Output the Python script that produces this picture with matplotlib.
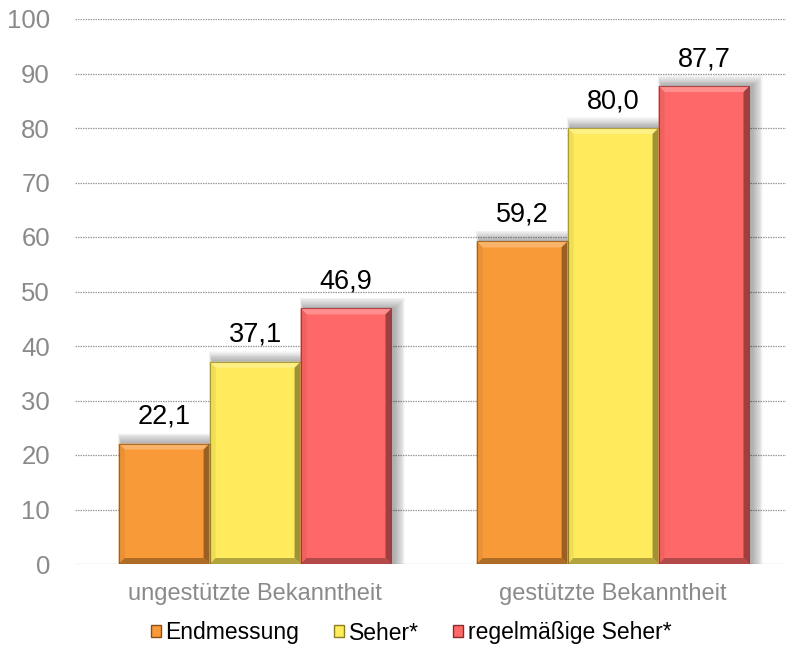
import matplotlib.pyplot as plt
import numpy as np
from matplotlib.patches import Polygon, Rectangle, Patch

plt.rcParams['font.family'] = ['Liberation Sans', 'DejaVu Sans']

categories = ["ungestützte Bekanntheit", "gestützte Bekanntheit"]
series = ["Endmessung", "Seher*", "regelmäßige Seher*"]
values = {
    "Endmessung": [22.1, 59.2],
    "Seher*": [37.1, 80.0],
    "regelmäßige Seher*": [46.9, 87.7],
}
colors = ["#F99A38", "#FFEB5C", "#FF6868"]
dark = ["#8A4E12", "#8C7F1E", "#8A2A2A"]

W, H, DPI = 786, 646, 100
fig = plt.figure(figsize=(W / DPI, H / DPI), dpi=DPI)
ax = fig.add_axes([75 / W, 1 - 564 / H, 1 - 75 / W, (564 - 19) / H])

xlim = (-0.503, 1.483)
ylim = (0, 100)
ax.set_xlim(*xlim)
ax.set_ylim(*ylim)
ax_w_px = (1 - 75 / W) * W
ax_h_px = 545
px_x = (xlim[1] - xlim[0]) / ax_w_px   # data units per pixel
px_y = (ylim[1] - ylim[0]) / ax_h_px

width = 0.254
x = np.arange(len(categories))


def shade(c, f):
    c = np.array(plt.matplotlib.colors.to_rgb(c))
    if f > 0:
        return tuple(c + (1 - c) * f)
    return tuple(c * (1 + f))


def beveled_bar(x0, h, color, edge):
    x1 = x0 + width
    # soft drop shadow
    for k in range(12, 0, -1):
        ax.add_patch(Rectangle((x0 - k * 0.3 * px_x + 3 * px_x, 0),
                               width + k * 1.2 * px_x, h + k * 0.9 * px_y,
                               facecolor="black", edgecolor="none",
                               alpha=0.028, zorder=1))
    ax.add_patch(Rectangle((x0, 0), width, h, facecolor=color,
                           edgecolor="none", zorder=3))
    b = 6
    bx, by = b * px_x, b * px_y
    top = Polygon([(x0, h), (x1, h), (x1 - bx, h - by), (x0 + bx, h - by)],
                  facecolor=shade(color, 0.25), edgecolor="none", zorder=4)
    left = Polygon([(x0, 0), (x0, h), (x0 + bx, h - by), (x0 + bx, by)],
                   facecolor=shade(color, -0.06), edgecolor="none", zorder=4)
    right = Polygon([(x1, 0), (x1, h), (x1 - bx, h - by), (x1 - bx, by)],
                    facecolor=shade(color, -0.38), edgecolor="none", zorder=4)
    bottom = Polygon([(x0, 0), (x1, 0), (x1 - bx, by), (x0 + bx, by)],
                     facecolor=shade(color, -0.3), edgecolor="none", zorder=4)
    for p in (top, left, right, bottom):
        ax.add_patch(p)
    ax.add_patch(Rectangle((x0, 0), width, h, facecolor="none",
                           edgecolor=edge, linewidth=0.8, alpha=0.7, zorder=5))


for i, name in enumerate(series):
    for j, v in enumerate(values[name]):
        x0 = x[j] + (i - 1.5) * width
        beveled_bar(x0, v, colors[i], dark[i])
        ax.annotate(f"{v:.1f}".replace(".", ","), (x0 + width / 2, v),
                    xytext=(0, 10), textcoords="offset points",
                    ha="center", va="bottom", fontsize=19.5, color="black",
                    zorder=6)

ax.set_yticks(np.arange(0, 101, 10))
ax.yaxis.grid(True, linestyle=(0, (1.2, 0.8)), color="#9a9a9a", linewidth=0.9)
ax.set_axisbelow(True)
ax.set_xticks(x)
ax.set_xticklabels(categories)
ax.tick_params(axis="y", length=0, pad=18, labelsize=18.5, labelcolor="#8a8a8a")
ax.tick_params(axis="x", length=0, pad=14, labelsize=17, labelcolor="#8a8a8a")
for s in ax.spines.values():
    s.set_visible(False)

handles = [Patch(facecolor=c, edgecolor=d, linewidth=1.0) for c, d in zip(colors, dark)]
fig.legend(handles, series, loc="center", bbox_to_anchor=(411 / W, 1 - 633 / H),
           ncol=3, frameon=False, fontsize=16.5, handlelength=0.45,
           handleheight=0.45, handletextpad=0.2, columnspacing=1.5)

fig.savefig("out.png", dpi=DPI)
